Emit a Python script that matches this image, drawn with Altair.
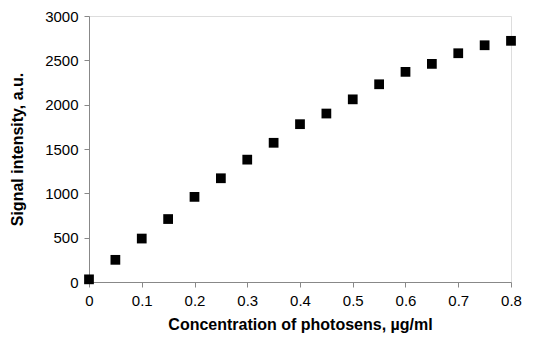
import altair as alt
import pandas as pd

conc = [0, 0.05, 0.1, 0.15, 0.2, 0.25, 0.3, 0.35, 0.4, 0.45, 0.5, 0.55, 0.6, 0.65, 0.7, 0.75, 0.8]
signal = [30, 250, 490, 710, 960, 1170, 1380, 1570, 1780, 1900, 2060, 2230, 2370, 2460, 2580, 2670, 2720]

df = pd.DataFrame({"conc": conc, "signal": signal})

chart = alt.Chart(df).mark_point(shape="square", filled=True, color="black", size=95, opacity=1).encode(
    x=alt.X("conc:Q", title="Concentration of photosens, µg/ml",
            scale=alt.Scale(domain=[0, 0.8], nice=False, zero=False),
            axis=alt.Axis(values=[0, 0.1, 0.2, 0.3, 0.4, 0.5, 0.6, 0.7, 0.8], format="~g",
                          grid=False, domainColor="#888888", tickColor="#888888", tickSize=5,
                          labelFont="Liberation Sans", labelFontSize=15, labelColor="black",
                          labelPadding=6, titleFont="Liberation Sans", titleFontSize=16,
                          titleFontWeight="bold", titleColor="black", titlePadding=8,
                          labelFlush=False)),
    y=alt.Y("signal:Q", title="Signal intensity, a.u.",
            scale=alt.Scale(domain=[0, 3000], nice=False),
            axis=alt.Axis(values=[0, 500, 1000, 1500, 2000, 2500, 3000], format="d",
                          grid=False, domainColor="#888888", tickColor="#888888", tickSize=5,
                          labelFont="Liberation Sans", labelFontSize=15, labelColor="black",
                          labelPadding=6, titleFont="Liberation Sans", titleFontSize=16,
                          titleFontWeight="bold", titleColor="black", titlePadding=19,
                          labelFlush=False)),
).properties(
    width=422, height=266,
    autosize=alt.AutoSizeParams(type="none"),
    padding={"left": 89, "top": 16, "right": 23, "bottom": 69},
).configure_view(stroke="#888888", strokeWidth=1).configure(background="white")

chart.save("out.html", embed_options={"renderer": "svg", "actions": False})
